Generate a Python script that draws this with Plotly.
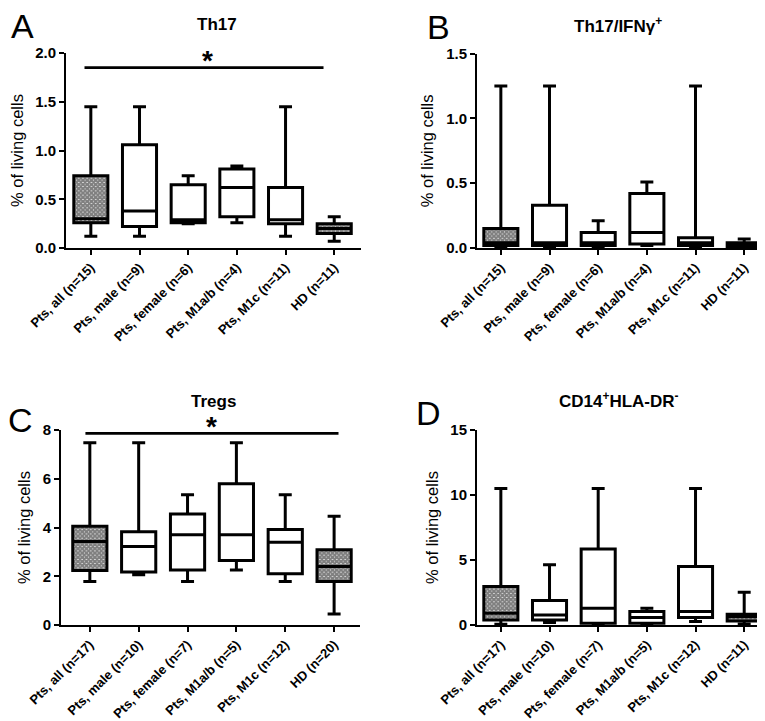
import plotly.graph_objects as go

W, H = 765, 721

groups = ["Pts, all", "Pts, male", "Pts, female", "Pts, M1a/b", "Pts, M1c", "HD"]
n_AB = [15, 9, 6, 4, 11, 11]
n_C = [17, 10, 7, 5, 12, 20]
n_D = [17, 10, 7, 5, 12, 11]

# Panel A: Th17
A_min = [0.12, 0.12, 0.25, 0.26, 0.12, 0.07]
A_q1 = [0.26, 0.22, 0.26, 0.32, 0.25, 0.15]
A_med = [0.30, 0.38, 0.29, 0.62, 0.29, 0.20]
A_q3 = [0.74, 1.06, 0.65, 0.81, 0.62, 0.25]
A_max = [1.45, 1.45, 0.74, 0.84, 1.45, 0.32]

# Panel B: Th17/IFNg+
B_min = [0.01, 0.01, 0.01, 0.02, 0.01, 0.005]
B_q1 = [0.02, 0.02, 0.02, 0.03, 0.02, 0.01]
B_med = [0.04, 0.04, 0.04, 0.12, 0.04, 0.02]
B_q3 = [0.15, 0.33, 0.12, 0.42, 0.08, 0.04]
B_max = [1.25, 1.25, 0.21, 0.51, 1.25, 0.07]

# Panel C: Tregs
C_min = [1.78, 2.06, 1.78, 2.26, 1.78, 0.45]
C_q1 = [2.24, 2.17, 2.26, 2.65, 2.10, 1.78]
C_med = [3.43, 3.22, 3.70, 3.70, 3.40, 2.40]
C_q3 = [4.05, 3.83, 4.55, 5.80, 3.92, 3.09]
C_max = [7.48, 7.48, 5.34, 7.48, 5.34, 4.46]

# Panel D: CD14+HLA-DR-
D_min = [0.05, 0.20, 0.05, 0.05, 0.26, 0.05]
D_q1 = [0.39, 0.39, 0.13, 0.13, 0.57, 0.31]
D_med = [0.90, 0.77, 1.29, 0.57, 1.03, 0.64]
D_q3 = [2.96, 1.88, 5.84, 1.03, 4.50, 0.82]
D_max = [10.5, 4.63, 10.5, 1.29, 10.5, 2.52]

titles = ["Th17", "Th17/IFNγ<sup>+</sup>", "Tregs", "CD14<sup>+</sup>HLA-DR<sup>-</sup>"]
letters = ["A", "B", "C", "D"]
patterned = [0, 5]

FONT = "Arial, Liberation Sans, sans-serif"


def px_x(p):
    return p / W


def px_y(p):
    return 1 - p / H


panels = [
    dict(mn=A_min, q1=A_q1, med=A_med, q3=A_q3, mx=A_max, n=n_AB, yr=[0, 2.0], dt=0.5, fmt=".1f",
         dom_x=[58, 353], dom_y=[45, 240], xr=[-0.51, 5.55], sig=(-0.13, 4.78, 1.85), star_px=(199, 53),
         title_px=(209, 17), letter_px=(14, 18)),
    dict(mn=B_min, q1=B_q1, med=B_med, q3=B_q3, mx=B_max, n=n_AB, yr=[0, 1.5], dt=0.5, fmt=".1f",
         dom_x=[469, 762], dom_y=[45.7, 240], xr=[-0.49, 5.53], sig=None, star_px=None,
         title_px=(610, 17), letter_px=(430, 19)),
    dict(mn=C_min, q1=C_q1, med=C_med, q3=C_q3, mx=C_max, n=n_C, yr=[0, 8], dt=2, fmt="d",
         dom_x=[53, 352], dom_y=[422, 617], xr=[-0.59, 5.53], sig=(-0.09, 5.09, 7.86), star_px=(203, 418),
         title_px=(205, 393), letter_px=(13, 412)),
    dict(mn=D_min, q1=D_q1, med=D_med, q3=D_q3, mx=D_max, n=n_D, yr=[0, 15], dt=5, fmt="d",
         dom_x=[469, 762], dom_y=[422, 617], xr=[-0.49, 5.53], sig=None, star_px=None,
         title_px=(611, 392), letter_px=(420, 405)),
]

fig = go.Figure()
annotations = []
shapes = []
xs = list(range(len(groups)))

for i, p in enumerate(panels):
    k = "" if i == 0 else str(i + 1)
    xa, ya = "x" + k, "y" + k
    # patterned fill for "Pts, all" and "HD"
    fig.add_trace(go.Bar(
        x=[xs[j] for j in patterned],
        base=[p["q1"][j] for j in patterned],
        y=[p["q3"][j] - p["q1"][j] for j in patterned],
        width=0.7,
        marker=dict(color="white", line=dict(width=0),
                    pattern=dict(shape="x", size=3, solidity=0.9, fgcolor="black", bgcolor="white")),
        xaxis=xa, yaxis=ya, showlegend=False, hoverinfo="skip"))
    fig.add_trace(go.Box(
        x=xs, q1=p["q1"], median=p["med"], q3=p["q3"],
        lowerfence=p["mn"], upperfence=p["mx"],
        width=0.7, whiskerwidth=0.38, boxpoints=False,
        line=dict(color="black", width=3), fillcolor="rgba(0,0,0,0)",
        xaxis=xa, yaxis=ya, showlegend=False))

    ticktext = [f"{g} (n={n})" for g, n in zip(groups, p["n"])]
    common = dict(showline=True, linecolor="black", linewidth=2, ticks="outside", ticklen=5,
                  tickwidth=2, tickcolor="black", showgrid=False, zeroline=False, automargin=False)
    fig.layout["xaxis" + k] = dict(
        domain=[px_x(p["dom_x"][0]), px_x(p["dom_x"][1])], range=p["xr"], anchor=ya,
        tickmode="array", tickvals=xs, ticktext=ticktext, tickangle=-45,
        tickfont=dict(family=FONT, size=13, color="black", weight="bold"), **common)
    fig.layout["yaxis" + k] = dict(
        domain=[px_y(p["dom_y"][1]), px_y(p["dom_y"][0])], range=p["yr"], anchor=xa,
        dtick=p["dt"], tickformat=p["fmt"],
        tickfont=dict(family=FONT, size=15, color="black", weight="bold"),
        title=dict(text="% of living cells", font=dict(family=FONT, size=16.5, color="black"), standoff=8),
        **common)

    annotations.append(dict(text=f"<b>{titles[i]}</b>", x=px_x(p["title_px"][0]), y=px_y(p["title_px"][1]),
                            xref="paper", yref="paper", showarrow=False, xanchor="center", yanchor="middle",
                            font=dict(family=FONT, size=17, color="black")))
    annotations.append(dict(text=letters[i], x=px_x(p["letter_px"][0]), y=px_y(p["letter_px"][1]),
                            xref="paper", yref="paper", showarrow=False, xanchor="center", yanchor="middle",
                            font=dict(family=FONT, size=34, color="black")))
    if p["sig"]:
        x0, x1, yl = p["sig"]
        shapes.append(dict(type="line", xref=xa, yref=ya, x0=x0, x1=x1, y0=yl, y1=yl,
                           line=dict(color="black", width=2.6)))
        annotations.append(dict(text="<b>*</b>", x=px_x(p["star_px"][0]), y=px_y(p["star_px"][1]),
                                xref="paper", yref="paper", showarrow=False,
                                xanchor="center", yanchor="middle",
                                font=dict(family=FONT, size=28, color="black")))

fig.update_layout(width=W, height=H, margin=dict(l=0, r=0, t=0, b=0, autoexpand=False),
                  paper_bgcolor="white", plot_bgcolor="white",
                  annotations=annotations, shapes=shapes, boxmode="overlay", barmode="overlay",
                  font=dict(family=FONT, color="black"))
fig.write_html("out.html")
